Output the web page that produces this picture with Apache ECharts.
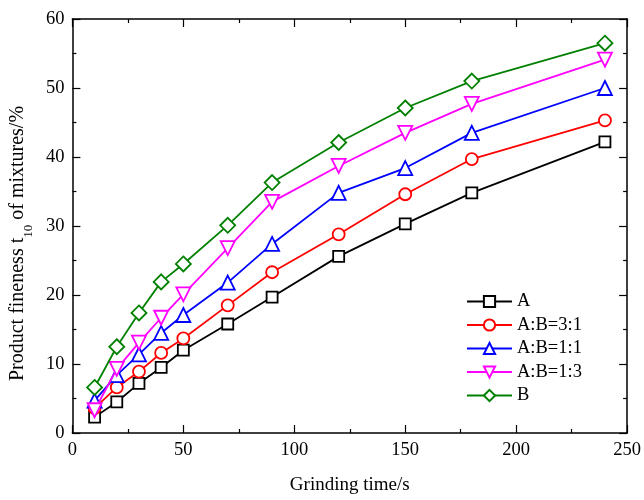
<!DOCTYPE html>
<html><head><meta charset="utf-8">
<script src="https://cdn.jsdelivr.net/npm/echarts@6/dist/echarts.min.js"></script>
<style>html,body{margin:0;padding:0;background:#fff}#c{width:644px;height:500px}</style>
</head><body><div id="c"></div>
<script>
const times = [10, 20, 30, 40, 50, 70, 90, 120, 150, 180, 240];
const seriesNames = ['A', 'A:B=3:1', 'A:B=1:1', 'A:B=1:3', 'B'];
const valsA   = [2.3, 4.5, 7.2, 9.5, 12.0, 15.8, 19.7, 25.6, 30.3, 34.8, 42.2];
const vals31  = [3.6, 6.6, 8.9, 11.6, 13.7, 18.5, 23.3, 28.8, 34.6, 39.7, 45.3];
const vals11  = [4.7, 8.4, 11.4, 14.5, 17.1, 21.8, 27.4, 34.8, 38.4, 43.5, 50.0];
const vals13  = [3.3, 9.3, 13.1, 16.7, 20.1, 26.8, 33.5, 38.7, 43.5, 47.7, 54.1];
const valsB   = [6.6, 12.5, 17.4, 21.9, 24.5, 30.1, 36.3, 42.1, 47.1, 51.0, 56.5];
const allVals = [valsA, vals31, vals11, vals13, valsB];
const colors = ['#000000', '#ff0000', '#0000ff', '#ff00ff', '#008000'];
const symbols = ['rect', 'circle', 'triangle', 'triangle', 'diamond'];
const symRot = [0, 0, 0, 180, 0];
const symSize = [11, 12, 14, 14, 15];

const font = 'Liberation Serif';
const chart = echarts.init(document.getElementById('c'));
const axisCommon = {
  axisLine: {show: true, onZero: false, lineStyle: {color: '#000', width: 1.5}},
  axisTick: {show: true, inside: true, length: 8, lineStyle: {color: '#000', width: 1.2}},
  minorTick: {show: true, splitNumber: 2, length: 4, lineStyle: {color: '#000', width: 1.2}},
  splitLine: {show: false}
};
chart.setOption({
  animation: false,
  grid: {left: 71, right: 13, top: 19, bottom: 66, containLabel: false},
  legend: {
    orient: 'vertical', left: 461, top: 287, itemWidth: 45, itemHeight: 14, itemGap: 4.5,
    textStyle: {fontFamily: font, fontSize: 18.5, lineHeight: 19, color: '#000'},
    data: seriesNames
  },
  xAxis: [
    Object.assign({}, axisCommon, {
      type: 'value', min: 0, max: 250, interval: 50, position: 'bottom',
      name: 'Grinding time/s', nameLocation: 'middle', nameGap: 43,
      nameTextStyle: {fontFamily: font, fontSize: 19, color: '#000'},
      axisLabel: {fontFamily: font, fontSize: 18.5, color: '#000', margin: 8}
    }),
    Object.assign({}, axisCommon, {
      type: 'value', min: 0, max: 250, interval: 50, position: 'top',
      axisLabel: {show: false}
    })
  ],
  yAxis: [
    Object.assign({}, axisCommon, {
      type: 'value', min: 0, max: 60, interval: 10, position: 'left',
      name: 'Product fineness t{sub|10} of mixtures/%', nameLocation: 'middle', nameGap: 40,
      nameTextStyle: {fontFamily: font, fontSize: 20, color: '#000', padding: [0, 35, 0, 0],
        rich: {sub: {fontFamily: font, fontSize: 13, color: '#000', verticalAlign: 'bottom', padding: [0, 0, -7, 0]}}},
      axisLabel: {fontFamily: font, fontSize: 18.5, color: '#000', margin: 8}
    }),
    Object.assign({}, axisCommon, {
      type: 'value', min: 0, max: 60, interval: 10, position: 'right',
      axisLabel: {show: false}
    })
  ],
  series: seriesNames.map((n, i) => ({
    name: n, type: 'line', xAxisIndex: 0, yAxisIndex: 0,
    data: times.map((t, k) => [t, allVals[i][k]]),
    symbol: symbols[i], symbolSize: symSize[i], symbolRotate: symRot[i],
    showAllSymbol: true,
    lineStyle: {color: colors[i], width: 1.8},
    itemStyle: {color: '#fff', borderColor: colors[i], borderWidth: 1.8},
    z: 2 + i
  }))
});
</script></body></html>
